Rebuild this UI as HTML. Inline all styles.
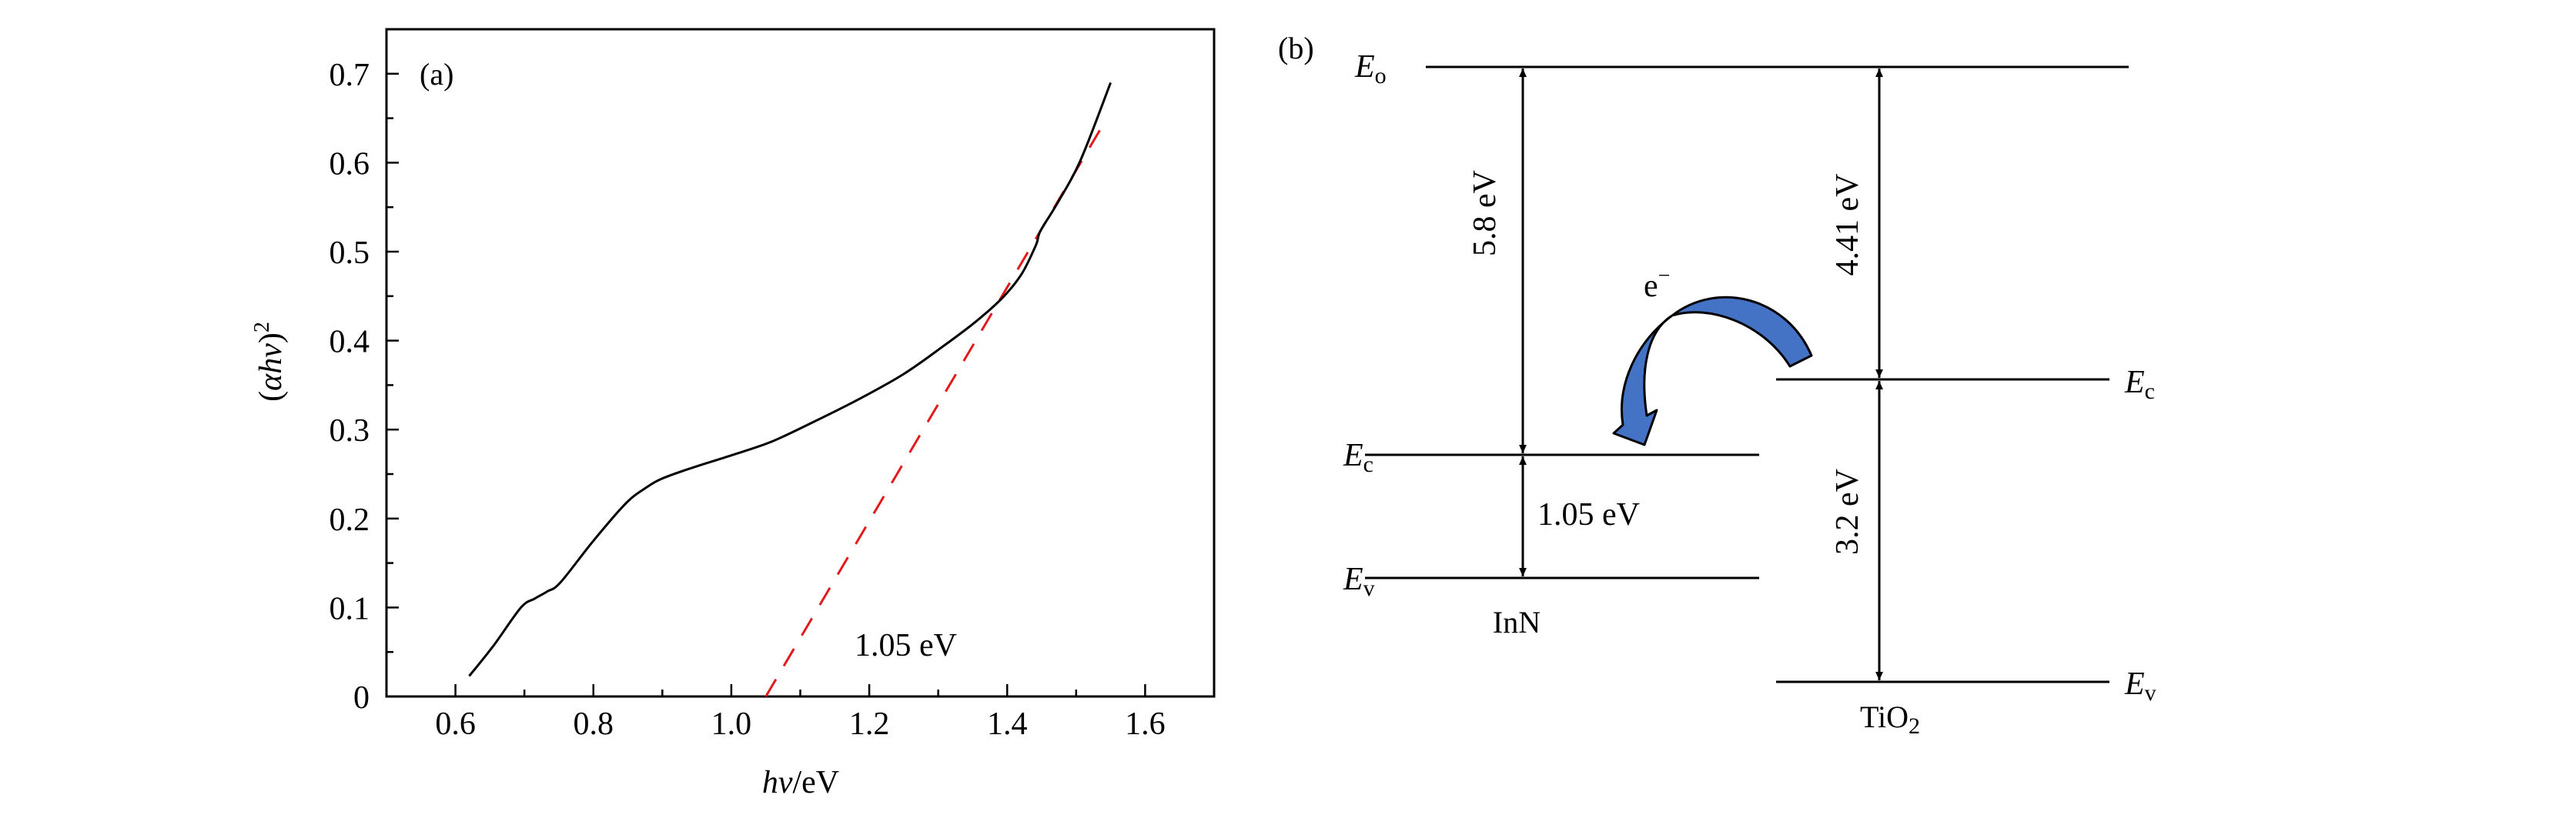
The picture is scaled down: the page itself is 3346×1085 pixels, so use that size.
<!DOCTYPE html>
<html><head><meta charset="utf-8"><style>
html,body{margin:0;padding:0;background:#fff}
svg{display:block}
text{font-family:"Liberation Serif",serif;fill:#000}
</style></head><body>
<svg width="3346" height="1085" viewBox="0 0 3346 1085" xmlns="http://www.w3.org/2000/svg">
<g id="panel-a">
  <text x="1040" y="1030" font-size="42" text-anchor="middle"><tspan font-style="italic">hv</tspan>/eV</text>
  <text transform="translate(365,470) rotate(-90)" font-size="42" text-anchor="middle">(<tspan font-style="italic">αhv</tspan>)<tspan font-size="28" dy="-16">2</tspan></text>
</g>
<g id="panel-b">
  <text x="1660" y="76" font-size="40">(b)</text>
  <line x1="1852" y1="87" x2="2765" y2="87" stroke="#000" stroke-width="3"/>
  <text x="1760" y="100" font-size="42" font-style="italic">E<tspan font-style="normal" font-size="30" dy="8">o</tspan></text>
  <line x1="1773" y1="591" x2="2285" y2="591" stroke="#000" stroke-width="3"/>
  <line x1="1773" y1="751" x2="2285" y2="751" stroke="#000" stroke-width="3"/>
  <text x="1745" y="605" font-size="42" font-style="italic">E<tspan font-style="normal" font-size="30" dy="8">c</tspan></text>
  <text x="1745" y="766" font-size="42" font-style="italic">E<tspan font-style="normal" font-size="30" dy="8">v</tspan></text>
  <text x="1970" y="822" font-size="40" text-anchor="middle">InN</text>
  <line x1="2307" y1="493" x2="2740" y2="493" stroke="#000" stroke-width="3"/>
  <line x1="2307" y1="886" x2="2740" y2="886" stroke="#000" stroke-width="3"/>
  <text x="2760" y="510" font-size="42" font-style="italic">E<tspan font-style="normal" font-size="30" dy="8">c</tspan></text>
  <text x="2760" y="902" font-size="42" font-style="italic">E<tspan font-style="normal" font-size="30" dy="8">v</tspan></text>
  <text x="2455" y="945" font-size="40" text-anchor="middle">TiO<tspan font-size="30" dy="8">2</tspan></text>
  <defs>
    <marker id="ah2" viewBox="0 0 10 10" markerWidth="11" markerHeight="22" refX="10" refY="5" orient="auto-start-reverse" markerUnits="userSpaceOnUse">
      <path d="M0,0.5 L10,5 L0,9.5 Z" fill="#000"/>
    </marker>
  </defs>
  <line x1="1978" y1="89" x2="1978" y2="589" stroke="#000" stroke-width="3" marker-start="url(#ah2)" marker-end="url(#ah2)"/>
  <line x1="1978" y1="593" x2="1978" y2="749" stroke="#000" stroke-width="3" marker-start="url(#ah2)" marker-end="url(#ah2)"/>
  <line x1="2441" y1="89" x2="2441" y2="491" stroke="#000" stroke-width="3" marker-start="url(#ah2)" marker-end="url(#ah2)"/>
  <line x1="2441" y1="495" x2="2441" y2="884" stroke="#000" stroke-width="3" marker-start="url(#ah2)" marker-end="url(#ah2)"/>
  <text transform="translate(1942,277) rotate(-90)" font-size="42" text-anchor="middle">5.8 eV</text>
  <text transform="translate(2413,292) rotate(-90)" font-size="42" text-anchor="middle">4.41 eV</text>
  <text transform="translate(2413,665) rotate(-90)" font-size="42" text-anchor="middle">3.2 eV</text>
  <text x="1997" y="682" font-size="42">1.05 eV</text>
  <text x="2135" y="385" font-size="42">e<tspan font-size="28" dy="-18">−</tspan></text>
  <path d="M2353,462 C2320,385 2230,365 2172,410 C2125,445 2100,500 2108,552 L2096,563 L2136,578 L2152,533 L2139,540 C2130,480 2140,430 2172,410 C2220,395 2290,420 2325,476 Z" fill="#4472c4" stroke="#000" stroke-width="3" stroke-linejoin="round"/>
</g>
</svg>
<script>
var xTicks=[0.6,0.8,1.0,1.2,1.4,1.6];
var xTickLabels=["0.6","0.8","1.0","1.2","1.4","1.6"];
var yTicks=[0,0.1,0.2,0.3,0.4,0.5,0.6,0.7];
var yTickLabels=["0","0.1","0.2","0.3","0.4","0.5","0.6","0.7"];
var curveX=[0.62,0.656,0.695,0.715,0.733,0.752,0.80,0.847,0.875,0.9,0.943,1.0,1.057,1.115,1.182,1.249,1.306,1.354,1.393,1.421,1.442,1.448,1.474,1.507,1.55];
var curveY=[0.023,0.058,0.100,0.110,0.118,0.128,0.175,0.217,0.234,0.245,0.257,0.271,0.286,0.307,0.333,0.362,0.393,0.421,0.448,0.475,0.508,0.523,0.556,0.604,0.690];
var fitX=[1.05,1.54];
var fitY=[0,0.644];
var NS="http://www.w3.org/2000/svg";
var L=502,R=1577,T=38,B=905,X0=0.5,X1=1.7,Y0=0,Y1=0.75;
function sx(v){return L+(v-X0)/(X1-X0)*(R-L);}
function sy(v){return B-(v-Y0)/(Y1-Y0)*(B-T);}
var g=document.getElementById('panel-a');
function mk(t,a){var e=document.createElementNS(NS,t);for(var k in a)e.setAttribute(k,a[k]);g.appendChild(e);return e;}
var box=mk('rect',{x:L,y:T,width:R-L,height:B-T,fill:'none',stroke:'#000','stroke-width':3});


for(var v=0.5;v<=1.701;v+=0.1){var maj=Math.abs(Math.round(v*10)%2)==0;
 var t=mk('line',{x1:sx(v),y1:B,x2:sx(v),y2:B-(maj?16:9),stroke:'#000','stroke-width':2.5});
 
 }
for(var v=0;v<=0.751;v+=0.05){var maj=Math.abs(Math.round(v*100)%10)==0;
 var t=mk('line',{x1:L,y1:sy(v),x2:L+(maj?16:9),y2:sy(v),stroke:'#000','stroke-width':2.5});
 
 }
xTicks.forEach(function(v,i){var t=mk('text',{x:sx(v),y:954,'font-size':42,'text-anchor':'middle'});t.textContent=xTickLabels[i];
 
 });
yTicks.forEach(function(v,i){var t=mk('text',{x:L-22,y:sy(v)+15,'font-size':42,'text-anchor':'end'});t.textContent=yTickLabels[i];
 
 });
var pl=mk('text',{x:545,y:110,'font-size':40});pl.textContent='(a)';


var fit=mk('line',{x1:sx(fitX[0]),y1:sy(fitY[0]),x2:sx(fitX[1]),y2:sy(fitY[1]),stroke:'#e31a1c','stroke-width':3,'stroke-dasharray':'26,20'});


var P=curveX.map(function(x,i){return [sx(x),sy(curveY[i])];});
var d='M'+P[0][0].toFixed(1)+','+P[0][1].toFixed(1);
for(var i=0;i<P.length-1;i++){var p0=P[Math.max(0,i-1)],p1=P[i],p2=P[i+1],p3=P[Math.min(P.length-1,i+2)];
 var c1x=p1[0]+(p2[0]-p0[0])/6,c1y=p1[1]+(p2[1]-p0[1])/6,c2x=p2[0]-(p3[0]-p1[0])/6,c2y=p2[1]-(p3[1]-p1[1])/6;
 d+=' C'+c1x.toFixed(1)+','+c1y.toFixed(1)+' '+c2x.toFixed(1)+','+c2y.toFixed(1)+' '+p2[0].toFixed(1)+','+p2[1].toFixed(1);}
var c=mk('path',{d:d,fill:'none',stroke:'#000','stroke-width':3,'stroke-linejoin':'round'});


var an=mk('text',{x:1110,y:852,'font-size':42});an.textContent='1.05 eV';


</script>
</body></html>
